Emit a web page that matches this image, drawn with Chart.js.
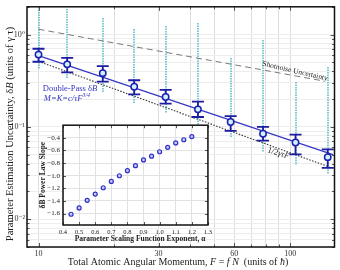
<!DOCTYPE html>
<html>
<head>
<meta charset="utf-8">
<script src="https://cdn.jsdelivr.net/npm/chart.js@4.4.1/dist/chart.umd.min.js"></script>
<style>
  html, body { margin: 0; padding: 0; background: #fff; }
  #wrap { position: relative; width: 340px; height: 270px; }
  #main { position: absolute; left: 0; top: 0; }
  #inset { position: absolute; left: 30px; top: 118px; }
</style>
</head>
<body>
<div id="wrap">
  <canvas id="main" width="340" height="270"></canvas>
  <canvas id="inset" width="185" height="128"></canvas>
</div>
<script>
// main plot data
const F = [10, 13, 18, 24, 32, 43, 58, 78, 105, 141]
const deltaB = [0.607, 0.476, 0.382, 0.272, 0.211, 0.155, 0.113, 0.0843, 0.0677, 0.047]
const deltaBHi = [0.702, 0.560, 0.456, 0.320, 0.252, 0.188, 0.131, 0.100, 0.0823, 0.0571]
const deltaBLo = [0.508, 0.389, 0.309, 0.225, 0.179, 0.128, 0.0907, 0.0711, 0.0505, 0.0359]
// spread of the single trials (cyan columns)
const trialTop = [2.0, 1.9, 1.53, 1.14, 1.23, 1.32, 0.564, 0.875, 0.307, 0.442]
const trialBottom = [0.421, 0.330, 0.240, 0.179, 0.141, 0.105, 0.0765, 0.0531, 0.0387, 0.031]
// fitted and reference lines
const fitF = [10, 148]
const fitB = [0.592, 0.05]
const shotF = [10, 136]
const shotB = [1.143, 0.314]
const limitF = [10, 143]
const limitB = [0.512, 0.0368]
// axis ticks
const xLabelled = [10, 30, 60, 100]
const xGrid = [10, 20, 30, 40, 50, 60, 70, 80, 90, 100]
const yDecades = [0.01, 0.1, 1]
const yDecadeText = ['10\u207B\u00B2', '10\u207B\u00B9', '10\u2070']
const yMinor = [2, 3, 4, 5, 6, 7, 8, 9]

// inset data
const alpha = [0.45, 0.5, 0.55, 0.6, 0.65, 0.7, 0.75, 0.8, 0.85, 0.9, 0.95, 1.0, 1.05, 1.1, 1.15, 1.2]
const slope = [-1.61, -1.51, -1.39, -1.29, -1.19, -1.09, -1.00, -0.92, -0.84, -0.75, -0.69, -0.62, -0.55, -0.48, -0.43, -0.38]
const insetXTicks = [0.4, 0.5, 0.6, 0.7, 0.8, 0.9, 1.0, 1.1, 1.2, 1.3]
const insetYTicks = [-1.6, -1.4, -1.2, -1.0, -0.8, -0.6, -0.4]

const SERIF = '"Liberation Serif", "DejaVu Serif", serif'

function yTickValues() {
    const out = [0.005, 0.006, 0.007, 0.008, 0.009]
    yDecades.forEach(d => {
        out.push(d)
        yMinor.forEach(m => {
            if (d * m <= 2) out.push(+(d * m).toPrecision(3))
        })
    })
    return out
}

// draws a row of text pieces in different fonts, centred on 0,0
function drawRuns(ctx, runs, align) {
    let w = 0
    runs.forEach(r => { ctx.font = r.font; r.w = ctx.measureText(r.text).width; w += r.w })
    let cx = align === 'left' ? 0 : -w / 2
    runs.forEach(r => {
        ctx.font = r.font
        ctx.fillText(r.text, cx, r.dy || 0)
        cx += r.w
    })
}

const mainDeco = {
    id: 'mainDeco',
    beforeDatasetsDraw(chart) {
        // cyan columns of single-trial estimates, snapped to the pixel grid
        const {ctx, chartArea: a, scales: {x, y}} = chart
        ctx.save()
        ctx.beginPath()
        ctx.rect(a.left, a.top, a.right - a.left, a.bottom - a.top)
        ctx.clip()
        ctx.strokeStyle = 'rgba(105,192,208,0.85)'
        ctx.lineWidth = 2
        ctx.setLineDash([1.5, 1])
        F.forEach((f, i) => {
            const px = Math.round(x.getPixelForValue(f))
            ctx.beginPath()
            ctx.moveTo(px, Math.round(y.getPixelForValue(trialTop[i])))
            ctx.lineTo(px, Math.round(y.getPixelForValue(trialBottom[i])))
            ctx.stroke()
        })
        ctx.restore()
    },
    afterDatasetDraw(chart, args) {
        if (args.index !== 1) return
        // error bars go above the lines but under the circles
        const {ctx, scales: {x, y}} = chart
        ctx.save()
        ctx.strokeStyle = '#1c1ca2'
        ctx.lineWidth = 1.8
        F.forEach((f, i) => {
            const px = x.getPixelForValue(f)
            const hi = y.getPixelForValue(deltaBHi[i])
            const lo = y.getPixelForValue(deltaBLo[i])
            ctx.beginPath()
            ctx.moveTo(px, hi); ctx.lineTo(px, lo)
            ctx.moveTo(px - 6, hi); ctx.lineTo(px + 6, hi)
            ctx.moveTo(px - 6, lo); ctx.lineTo(px + 6, lo)
            ctx.stroke()
        })
        ctx.restore()
    },
    afterDraw(chart) {
        const {ctx, chartArea: a, scales: {x, y}} = chart
        ctx.save()
        // inside tick marks
        ctx.strokeStyle = '#555'
        ctx.lineWidth = 1
        ctx.beginPath()
        xGrid.forEach(v => {
            const px = Math.round(x.getPixelForValue(v)) + 0.5
            const len = xLabelled.includes(v) ? 4 : 2.5
            ctx.moveTo(px, a.bottom); ctx.lineTo(px, a.bottom - len)
            ctx.moveTo(px, a.top); ctx.lineTo(px, a.top + len)
        })
        yTickValues().forEach(v => {
            const py = Math.round(y.getPixelForValue(v)) + 0.5
            const len = yDecades.includes(v) ? 4 : 2.5
            ctx.moveTo(a.left, py); ctx.lineTo(a.left + len, py)
            ctx.moveTo(a.right, py); ctx.lineTo(a.right - len, py)
        })
        ctx.stroke()
        // frame
        ctx.strokeStyle = '#111'
        ctx.lineWidth = 1.5
        ctx.strokeRect(a.left, a.top, a.right - a.left, a.bottom - a.top)

        // axis titles
        ctx.fillStyle = '#222'
        ctx.textBaseline = 'middle'
        const f10 = '10px ' + SERIF, i10 = 'italic 10px ' + SERIF
        ctx.save()
        ctx.translate(178, 262)
        drawRuns(ctx, [
            {text: 'Total Atomic Angular Momentum, ', font: f10},
            {text: 'F', font: i10}, {text: ' = ', font: f10},
            {text: 'f N', font: i10}, {text: '  (units of ', font: f10},
            {text: '\u0127', font: i10}, {text: ')', font: f10}
        ])
        ctx.restore()
        ctx.save()
        ctx.translate(10, 134)
        ctx.rotate(-Math.PI / 2)
        const f105 = '10.5px ' + SERIF, i105 = 'italic 10.5px ' + SERIF
        drawRuns(ctx, [
            {text: 'Parameter Estimation Uncertainty, \u03B4', font: f105},
            {text: 'B', font: i105}, {text: ' (units of \u03B3 \u03C4)', font: f105}
        ])
        ctx.restore()

        // labels inside the plot
        ctx.fillStyle = '#3434c0'
        const f85 = '8.5px ' + SERIF, i85 = 'italic 8.5px ' + SERIF
        ctx.save()
        ctx.translate(x.getPixelForValue(10.4), y.getPixelForValue(0.259))
        drawRuns(ctx, [{text: 'Double-Pass \u03B4', font: f85}, {text: 'B', font: i85}], 'left')
        ctx.restore()
        ctx.save()
        ctx.translate(x.getPixelForValue(10.5), y.getPixelForValue(0.203))
        drawRuns(ctx, [{text: 'M=K=c/\u03C4F', font: i85}, {text: '3/4', font: 'italic 6px ' + SERIF, dy: -3}], 'left')
        ctx.restore()

        ctx.fillStyle = '#222'
        ctx.save()
        ctx.translate(x.getPixelForValue(104.6), y.getPixelForValue(0.401))
        ctx.rotate(13 * Math.PI / 180)
        drawRuns(ctx, [{text: 'Shotnoise Uncertainty', font: '7.5px ' + SERIF}])
        ctx.restore()
        ctx.save()
        ctx.translate(x.getPixelForValue(89.8), y.getPixelForValue(0.0518))
        ctx.rotate(18 * Math.PI / 180)
        drawRuns(ctx, [{text: '1/2', font: f85}, {text: '\u03B3\u03C4F', font: i85}])
        ctx.restore()
        ctx.restore()
    }
}

new Chart(document.getElementById('main'), {
    type: 'line',
    data: {
        datasets: [
            {
                label: 'double pass',
                data: F.map((f, i) => ({x: f, y: deltaB[i]})),
                showLine: false,
                pointRadius: 3.2,
                pointBackgroundColor: '#cdf2ff',
                pointBorderColor: '#1f1fae',
                pointBorderWidth: 1.5,
                order: 0
            },
            {
                label: 'fit',
                data: fitF.map((f, i) => ({x: f, y: fitB[i]})),
                borderColor: '#3636c6',
                borderWidth: 1.2,
                pointRadius: 0,
                order: 1
            },
            {
                label: '1/2 gamma tau F',
                data: limitF.map((f, i) => ({x: f, y: limitB[i]})),
                borderColor: '#333',
                borderWidth: 1.1,
                borderDash: [1.5, 1.5],
                pointRadius: 0,
                order: 2
            },
            {
                label: 'shotnoise',
                data: shotF.map((f, i) => ({x: f, y: shotB[i]})),
                borderColor: '#7a7a7a',
                borderWidth: 1,
                borderDash: [6, 4],
                pointRadius: 0,
                order: 3
            }
        ]
    },
    options: {
        responsive: false,
        animation: false,
        devicePixelRatio: 1,
        layout: {padding: {top: 1, right: 1, left: 0, bottom: 0}},
        plugins: {legend: {display: false}, tooltip: {enabled: false}},
        scales: {
            x: {
                type: 'logarithmic',
                min: 9, max: 150,
                afterFit: s => { s.height = 23 },
                afterBuildTicks: s => { s.ticks = xGrid.map(v => ({value: v})) },
                grid: {color: '#dedede', drawTicks: false},
                border: {display: false},
                ticks: {
                    autoSkip: false, maxRotation: 0, padding: 2,
                    font: {family: SERIF, size: 8}, color: '#333',
                    callback: v => xLabelled.includes(v) ? String(v) : ''
                }
            },
            y: {
                type: 'logarithmic',
                min: 0.005, max: 2,
                afterFit: s => { s.width = 27 },
                afterBuildTicks: s => { s.ticks = yTickValues().map(v => ({value: v})) },
                grid: {color: '#ededed', drawTicks: false},
                border: {display: false},
                ticks: {
                    autoSkip: false, padding: 2,
                    font: {family: SERIF, size: 8}, color: '#333',
                    callback: v => {
                        const k = yDecades.indexOf(v)
                        return k >= 0 ? yDecadeText[k] : ''
                    }
                }
            }
        }
    },
    plugins: [mainDeco]
})

const insetDeco = {
    id: 'insetDeco',
    beforeDraw(chart) {
        const {ctx, chartArea: a} = chart
        ctx.save()
        ctx.fillStyle = '#fff'
        ctx.fillRect(a.left, a.top, a.right - a.left, a.bottom - a.top)
        ctx.restore()
    },
    afterDraw(chart) {
        const {ctx, chartArea: a, scales: {x, y}} = chart
        ctx.save()
        ctx.strokeStyle = '#555'
        ctx.lineWidth = 1
        ctx.beginPath()
        insetXTicks.forEach(v => {
            const px = Math.round(x.getPixelForValue(v)) + 0.5
            ctx.moveTo(px, a.bottom); ctx.lineTo(px, a.bottom - 3)
            ctx.moveTo(px, a.top); ctx.lineTo(px, a.top + 3)
        })
        insetYTicks.forEach(v => {
            const py = Math.round(y.getPixelForValue(v)) + 0.5
            ctx.moveTo(a.left, py); ctx.lineTo(a.left + 3, py)
            ctx.moveTo(a.right, py); ctx.lineTo(a.right - 3, py)
        })
        ctx.stroke()
        ctx.strokeStyle = '#111'
        ctx.lineWidth = 1.5
        ctx.strokeRect(a.left, a.top, a.right - a.left, a.bottom - a.top)

        ctx.fillStyle = '#222'
        ctx.textBaseline = 'middle'
        const b75 = 'bold 7.5px ' + SERIF
        ctx.save()
        ctx.translate(110, 121)
        drawRuns(ctx, [{text: 'Parameter Scaling Function Exponent, \u03B1', font: b75}])
        ctx.restore()
        ctx.save()
        ctx.translate(13, (a.top + a.bottom) / 2)
        ctx.rotate(-Math.PI / 2)
        drawRuns(ctx, [{text: '\u03B4B Power Law Slope', font: b75}])
        ctx.restore()
        ctx.restore()
    }
}

new Chart(document.getElementById('inset'), {
    type: 'line',
    data: {
        datasets: [{
            label: 'slope',
            data: alpha.map((a, i) => ({x: a, y: slope[i]})),
            showLine: false,
            pointRadius: 2,
            pointBorderWidth: 1.2,
            pointBorderColor: '#3030c4',
            pointBackgroundColor: '#c4ccff'
        }]
    },
    options: {
        responsive: false,
        animation: false,
        devicePixelRatio: 1,
        layout: {padding: {top: 7, right: 7, left: 0, bottom: 0}},
        plugins: {legend: {display: false}, tooltip: {enabled: false}},
        scales: {
            x: {
                type: 'linear',
                min: 0.4, max: 1.3,
                afterFit: s => { s.height = 21 },
                afterBuildTicks: s => { s.ticks = insetXTicks.map(v => ({value: v})) },
                grid: {color: '#e2e2e2', drawTicks: false},
                border: {display: false},
                ticks: {
                    autoSkip: false, maxRotation: 0, padding: 3,
                    font: {family: SERIF, size: 6.5}, color: '#222',
                    callback: v => v.toFixed(1)
                }
            },
            y: {
                type: 'linear',
                min: -1.78, max: -0.2,
                afterFit: s => { s.width = 33 },
                afterBuildTicks: s => { s.ticks = insetYTicks.map(v => ({value: v})) },
                grid: {color: '#e2e2e2', drawTicks: false},
                border: {display: false},
                ticks: {
                    autoSkip: false, padding: 3,
                    font: {family: SERIF, size: 7}, color: '#222',
                    callback: v => v.toFixed(1).replace('-', '\u2212')
                }
            }
        }
    },
    plugins: [insetDeco]
})
</script>
</body>
</html>
